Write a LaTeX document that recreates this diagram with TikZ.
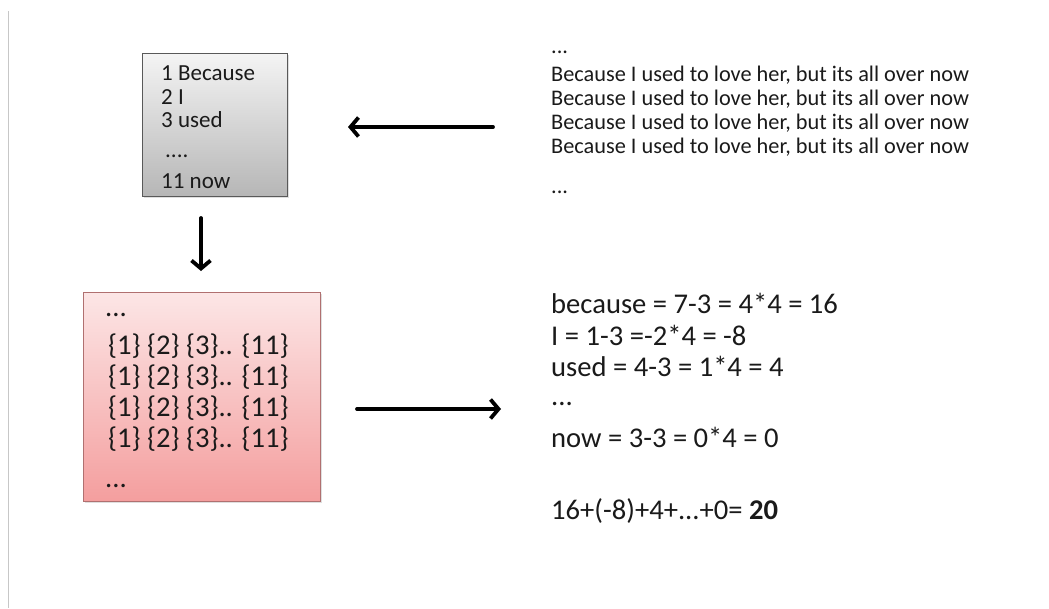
\documentclass[tikz,border=0pt]{standalone}
\usepackage{fontspec}
\setmainfont{Carlito}
\usetikzlibrary{arrows.meta,shadows}

\definecolor{pinktop}{RGB}{252,230,230}
\definecolor{pinkbot}{RGB}{244,158,158}
\definecolor{pinkedge}{RGB}{176,112,112}
\definecolor{greytop}{RGB}{244,244,244}
\definecolor{greybot}{RGB}{182,182,182}
\definecolor{ink}{RGB}{26,26,26}

\tikzset{
  wordbox/.style={draw=black!65, line width=0.8pt, top color=greytop, bottom color=greybot,
    drop shadow={shadow xshift=2pt, shadow yshift=-2pt, opacity=0.25}},
  codebox/.style={draw=pinkedge, line width=0.8pt, top color=pinktop, bottom color=pinkbot,
    drop shadow={shadow xshift=2pt, shadow yshift=-2pt, opacity=0.25}},
  txt/.style={anchor=base west, inner sep=0pt, text=ink},
  boxtxt/.style={txt, font=\fontsize{23}{27}\selectfont},
  small/.style={txt, font=\fontsize{22.3}{26}\selectfont},
  big/.style={txt, font=\fontsize{28.6}{33}\selectfont},
  flow/.style={line width=3.8pt, line cap=round, -{Straight Barb[length=8pt, width=19pt, line width=3.8pt]}},
}

\begin{document}
\begin{tikzpicture}[x=1pt, y=-1pt]
\useasboundingbox (0,0) rectangle (1049,608);
\fill[white] (0,0) rectangle (1049,608);
\draw[black!22, line width=1.2pt] (8.5,11) -- (8.5,608);

% word index box
\node[wordbox, anchor=north west, minimum width=145pt, minimum height=143pt] (words) at (142,53) {};
\node[boxtxt] (w1) at (161,80) {1 Because};
\node[boxtxt] (w2) at (161,104) {2 I};
\node[boxtxt] (w3) at (161,127) {3 used};
\node[boxtxt] (w4) at (165,157) {....};
\node[boxtxt] (w5) at (161,188) {11 now};

% encoded lines box
\node[codebox, anchor=north west, minimum width=237pt, minimum height=209pt] (codes) at (83,292) {};
\node[big] (c0) at (105,316) {...};
\node[big] (c1) at (108,354) {\{1\} \{2\} \{3\}.. \{11\}};
\node[big] (c2) at (108,385) {\{1\} \{2\} \{3\}.. \{11\}};
\node[big] (c3) at (108,416) {\{1\} \{2\} \{3\}.. \{11\}};
\node[big] (c4) at (108,447) {\{1\} \{2\} \{3\}.. \{11\}};
\node[big] (c5) at (105,487) {...};

% lyric lines
\node[small] (l0) at (551,53) {...};
\node[small] (l1) at (551,81) {Because I used to love her, but its all over now};
\node[small] (l2) at (551,105) {Because I used to love her, but its all over now};
\node[small] (l3) at (551,129) {Because I used to love her, but its all over now};
\node[small] (l4) at (551,153) {Because I used to love her, but its all over now};
\node[small] (l5) at (551,193) {...};

% scoring
\node[big] (s1) at (551,313) {because = 7-3 = 4*4 = 16};
\node[big] (s2) at (551,345) {I = 1-3 =-2*4 = -8};
\node[big] (s3) at (551,376) {used = 4-3 = 1*4 = 4};
\node[big] (s4) at (551,405) {...};
\node[big] (s5) at (551,447) {now = 3-3 = 0*4 = 0};
\node[big] (s6) at (551,519) {16+(-8)+4+...+0= \textbf{20}};

% arrows
\coordinate (a1s) at (493,127);
\coordinate (a1e) at (348,127);
\coordinate (a2s) at (201,218);
\coordinate (a2e) at (201,271);
\coordinate (a3s) at (357,409);
\coordinate (a3e) at (501,409);
\draw[flow] (a1s) -- (a1e);
\draw[flow] (a2s) -- (a2e);
\draw[flow] (a3s) -- (a3e);
\end{tikzpicture}
\end{document}
